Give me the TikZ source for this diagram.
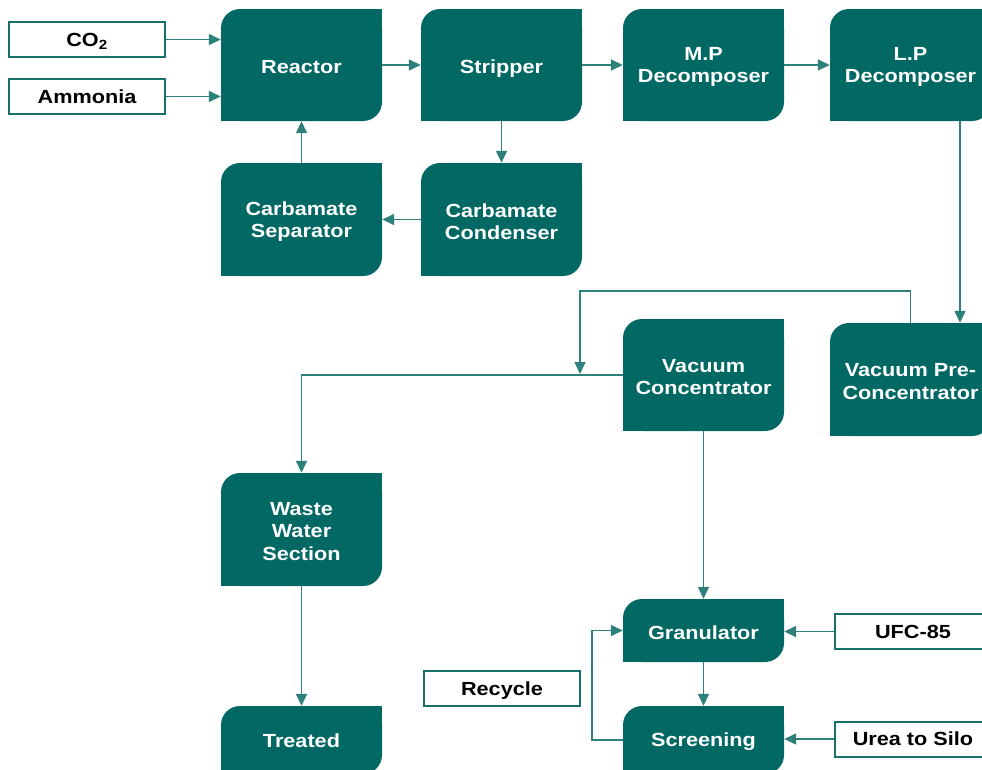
\documentclass[tikz,border=0pt]{standalone}
\usepackage{fontspec}
\setmainfont{Liberation Sans}[FakeStretch=1.14]
\usetikzlibrary{arrows.meta}
\definecolor{boxc}{HTML}{016864}
\definecolor{linec}{HTML}{2E807B}
\definecolor{edgec}{HTML}{17706A}
\tikzset{
  proc/.style={rectangle, fill=boxc, rounded corners=19pt,
    minimum width=161pt, inner sep=0pt},
  lbl/.style={text=white, font=\fontsize{19}{22.5}\selectfont\bfseries,
    align=center, inner sep=0pt, yshift=-2pt},
  inbox/.style={rectangle, fill=white, draw=edgec, line width=2pt, text=black,
    font=\fontsize{19}{22}\selectfont\bfseries,
    minimum width=156pt, minimum height=35pt, inner sep=0pt,
    text height=13.6pt, text depth=0pt},
  conn/.style={draw=linec, line width=1.5pt, -{Triangle[length=12pt,width=11pt]}}
}
\begin{document}
\begin{tikzpicture}[x=1pt,y=-1pt]
\useasboundingbox (0,0) rectangle (982,769);
\clip (0,0) rectangle (982,769);
\fill[white] (0,0) rectangle (982,769);
% process boxes
\node[proc, minimum height=112pt, label={[lbl]center:Reactor}] (reactor) at (301.5,65) {};
\node[proc, minimum height=112pt, label={[lbl, yshift=-2pt]center:Stripper}] (stripper) at (501.5,65) {};
\node[proc, minimum height=112pt, label={[lbl]center:M.P\\Decomposer}] (mp) at (703.5,65) {};
\node[proc, minimum height=112pt, label={[lbl]center:L.P\\Decomposer}] (lp) at (910.5,65) {};
\node[proc, minimum height=113pt, label={[lbl]center:Carbamate\\Condenser}] (cond) at (501.5,219.5) {};
\node[proc, minimum height=113pt, label={[lbl]center:Carbamate\\Separator}] (sep) at (301.5,219.5) {};
\node[proc, minimum height=113pt, label={[lbl]center:Vacuum Pre-\\Concentrator}] (prec) at (910.5,379.5) {};
\node[proc, minimum height=112pt, label={[lbl]center:Vacuum\\Concentrator}] (vconc) at (703.5,375) {};
\node[proc, minimum height=113pt, label={[lbl]center:Waste\\Water\\Section}] (waste) at (301.5,529.5) {};
\node[proc, minimum height=68pt, label={[lbl, yshift=1pt]center:Treated}] (treated) at (301.5,740) {};
\node[proc, minimum height=63pt, label={[lbl]center:Granulator}] (gran) at (703.5,630.5) {};
\node[proc, minimum height=68pt, label={[lbl]center:Screening}] (screen) at (703.5,740) {};
% sharp corners (top right, bottom left)
\foreach \n in {reactor,stripper,mp,lp,cond,sep,prec,vconc,waste,treated,gran,screen}{
  \fill[boxc] (\n.north east) rectangle ++(-21,21);
  \fill[boxc] (\n.south west) rectangle ++(21,-21);
}
% input boxes
\node[inbox] (co2) at (87,39.5) {CO\textsubscript{2}};
\node[inbox] (amm) at (87,96.5) {Ammonia};
\node[inbox] (recycle) at (502,688.5) {Recycle};
\node[inbox] (ufc) at (913,631.5) {UFC-85};
\node[inbox] (silo) at (913,739) {Urea to Silo};
% connectors
\draw[conn] (co2.east) -- (co2.east -| reactor.west);
\draw[conn] (amm.east) -- (amm.east -| reactor.west);
\draw[conn] (reactor) -- (stripper);
\draw[conn] (stripper) -- (mp);
\draw[conn] (mp) -- (lp);
\draw[conn] (stripper) -- (cond);
\draw[conn] (cond) -- (sep);
\draw[conn] (sep) -- (reactor);
\draw[conn] ([xshift=49.5pt]lp.south) -- ([xshift=49.5pt]prec.north);
\coordinate (c1) at (580,291);
\coordinate (c2) at (580,374);
\draw[conn] (prec.north) |- (c1) -- (c2);
\draw[conn] (vconc.west) -| (waste.north);
\draw[conn] (waste) -- (treated);
\draw[conn] (vconc) -- (gran);
\draw[conn] (gran) -- (screen);
\draw[conn] (screen.west) -- ++(-31,0) |- (gran.west);
\draw[conn] (ufc.west) -- (ufc.west -| gran.east);
\draw[conn] (silo.west) -- (silo.west -| screen.east);
\end{tikzpicture}
\end{document}
